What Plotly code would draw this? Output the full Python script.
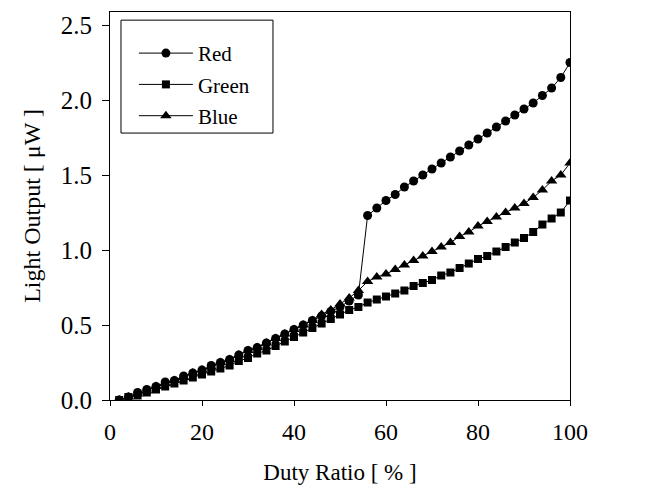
import plotly.graph_objects as go

duty = [2, 4, 6, 8, 10, 12, 14, 16, 18, 20, 22, 24, 26, 28, 30, 32, 34, 36, 38, 40,
        42, 44, 46, 48, 50, 52, 54, 56, 58, 60, 62, 64, 66, 68, 70, 72, 74, 76, 78, 80,
        82, 84, 86, 88, 90, 92, 94, 96, 98, 100]

red = [0.00, 0.02, 0.05, 0.07, 0.09, 0.12, 0.13, 0.16, 0.18, 0.20, 0.23, 0.25, 0.27, 0.30,
       0.33, 0.35, 0.38, 0.41, 0.44, 0.47, 0.50, 0.53, 0.56, 0.59, 0.62, 0.66, 0.70,
       1.23, 1.28, 1.33, 1.37, 1.42, 1.46, 1.50, 1.54, 1.58, 1.62, 1.66, 1.70, 1.74,
       1.78, 1.82, 1.86, 1.90, 1.94, 1.98, 2.03, 2.08, 2.15, 2.25]

green = [0.00, 0.02, 0.03, 0.05, 0.07, 0.09, 0.11, 0.13, 0.15, 0.17, 0.19, 0.21, 0.23, 0.26,
         0.28, 0.31, 0.33, 0.36, 0.39, 0.42, 0.45, 0.48, 0.51, 0.54, 0.57, 0.60, 0.62,
         0.65, 0.67, 0.69, 0.71, 0.73, 0.76, 0.78, 0.80, 0.83, 0.85, 0.88, 0.91, 0.94,
         0.96, 0.99, 1.02, 1.05, 1.08, 1.12, 1.17, 1.21, 1.25, 1.33]

blue = [0.00, 0.02, 0.04, 0.06, 0.09, 0.11, 0.13, 0.15, 0.18, 0.20, 0.22, 0.25, 0.27, 0.30,
        0.33, 0.35, 0.38, 0.41, 0.44, 0.47, 0.50, 0.53, 0.57, 0.60, 0.64, 0.68, 0.73,
        0.79, 0.82, 0.84, 0.87, 0.90, 0.93, 0.96, 0.99, 1.02, 1.05, 1.09, 1.12, 1.16,
        1.19, 1.22, 1.25, 1.28, 1.31, 1.35, 1.40, 1.46, 1.50, 1.58]

series = [("Red", red, "circle", 9), ("Green", green, "square", 8), ("Blue", blue, "triangle-up", 10)]

FONT = "Liberation Serif"

fig = go.Figure()
for name, vals, sym, sz in series:
    fig.add_trace(go.Scatter(
        x=duty, y=vals, name=name, mode="lines+markers",
        line=dict(color="black", width=1),
        marker=dict(symbol=sym, size=sz, color="black"),
        legendgroup=name,
    ))

# legend frame (drawn as a box around the legend entries)
fig.add_shape(type="rect", xref="paper", yref="paper",
              x0=0.0239, x1=0.3543, y0=0.688, y1=0.979,
              line=dict(color="black", width=1), fillcolor="white", layer="below")

fig.update_layout(
    width=654, height=494,
    margin=dict(l=110, r=84, t=12, b=94),
    paper_bgcolor="white", plot_bgcolor="white",
    font=dict(family=FONT, size=20, color="black"),
    showlegend=True,
    legend=dict(
        x=0.052, y=0.946, xanchor="left", yanchor="top",
        bgcolor="rgba(0,0,0,0)", borderwidth=0,
        font=dict(family=FONT, size=21, color="black"),
        tracegroupgap=1, itemwidth=54,
    ),
)
fig.update_xaxes(
    range=[0, 100], tickvals=[0, 20, 40, 60, 80, 100],
    showline=True, linecolor="black", linewidth=1, mirror=True,
    ticks="outside", ticklen=5, tickcolor="black",
    showgrid=False, zeroline=False,
    title=dict(text="Duty Ratio [ % ]", font=dict(family=FONT, size=23), standoff=20),
    tickfont=dict(family=FONT, size=24), ticklabelstandoff=5,
)
fig.update_yaxes(
    range=[0, 2.587], tickvals=[0, 0.5, 1.0, 1.5, 2.0, 2.5], tickformat=".1f",
    showline=True, linecolor="black", linewidth=1, mirror=True,
    ticks="outside", ticklen=7, tickcolor="black",
    showgrid=False, zeroline=False,
    title=dict(text="Light Output [ μW ]", font=dict(family=FONT, size=24), standoff=13),
    tickfont=dict(family=FONT, size=25), ticklabelstandoff=5,
)

fig.write_html("out.html")
